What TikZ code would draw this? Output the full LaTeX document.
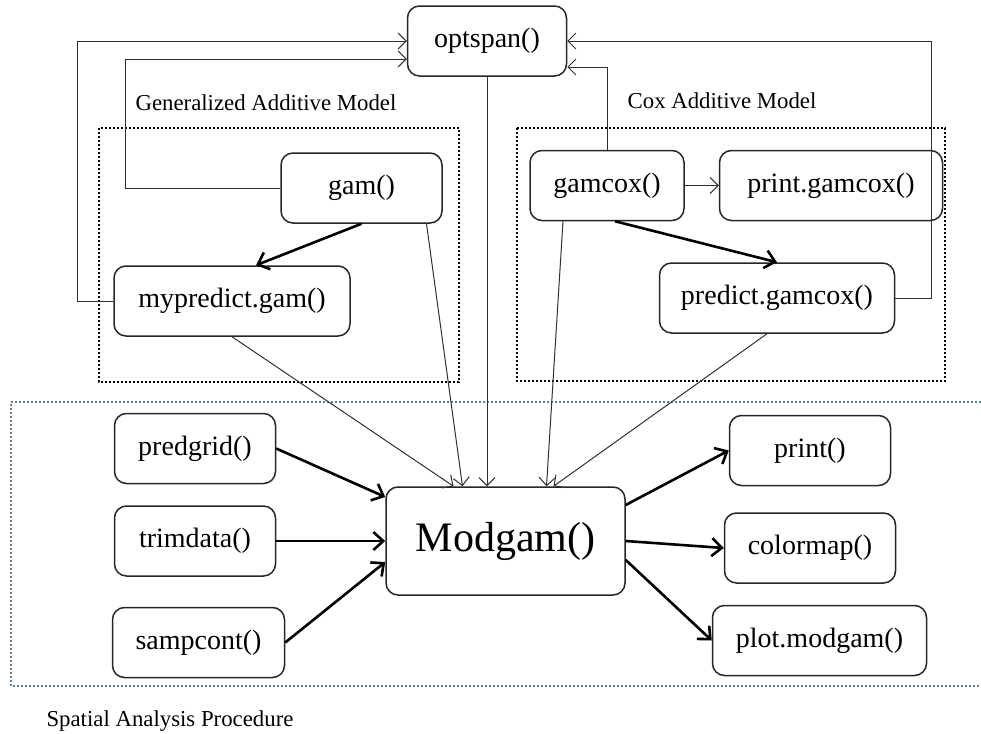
\documentclass[tikz,border=0pt]{standalone}
\usepackage{fontspec}
\setmainfont{Liberation Serif}
\usetikzlibrary{arrows.meta,positioning}
\definecolor{cline}{HTML}{303030}
\definecolor{carea}{HTML}{5F7F95}
\tikzset{
  fn/.style={draw=black!85, rounded corners=6pt, line width=0.75pt,
             minimum height=35pt, inner sep=3pt, font=\fontsize{14}{16}\selectfont},
  fnbig/.style={fn, minimum width=119.5pt, minimum height=54pt,
                font=\fontsize{21}{24}\selectfont},
  grp/.style={draw=black, line width=1pt, dash pattern=on 1pt off 1pt},
  area/.style={draw=carea, line width=0.8pt, dash pattern=on 0.8pt off 1.2pt},
  lbl/.style={font=\fontsize{11.4}{13}\selectfont},
  call/.style={-{Straight Barb[length=4pt,width=8pt]}, draw=cline, line width=0.5pt},
  callb/.style={-{Straight Barb[length=5pt,width=9pt]}, draw=black, line width=1.3pt},
}

\begin{document}
\begin{tikzpicture}[x=0.5pt, y=-0.5pt]
  \useasboundingbox (0,0) rectangle (981,734);
  \draw[grp] (99,128) rectangle (459,382);
  \draw[grp] (517,128) rectangle (945,381);
  \draw[area] (981,402) -- (11,402) -- (11,686) -- (981,686);
  \node[lbl] (lgam) at (266,103) {Generalized Additive Model};
  \node[lbl] (lcox) at (722,101) {Cox Additive Model};
  \node[lbl] (lsp) at (170,721) {Spatial Analysis Procedure};

  \node[fn, minimum width=79.5pt] (opt) at (487,41) {optspan()};
  \node[fn, minimum width=80.5pt] (gam) at (361.5,188) {gam()};
  \node[fn, minimum width=118pt] (myp) at (232,301) {mypredict.gam()};
  \node[fn, minimum width=77pt] (gcx) at (607,185.5) {gamcox()};
  \node[fn, minimum width=111.5pt, right=17pt of gcx] (pgx) {print.gamcox()};
  \node[fn, minimum width=117.5pt] (pgc) at (777,298) {predict.gamcox()};

  \node[fnbig] (mod) at (505.5,541) {Modgam()};
  \node[fn, minimum width=80.5pt, left=54.5pt of mod] (trim) {trimdata()};
  \node[fn, minimum width=80.5pt, above=10.5pt of trim] (grid) {predgrid()};
  \node[fn, minimum width=86pt, below=15pt of trim, xshift=1.75pt] (samp) {sampcont()};
  \node[fn, minimum width=85.5pt, right=49pt of mod, yshift=-3.5pt] (cmap) {colormap()};
  \node[fn, minimum width=80.5pt, above=13pt of cmap] (prt) {print()};
  \node[fn, minimum width=107pt, below=10.5pt of cmap, xshift=4.75pt] (pmod) {plot.modgam()};

  \draw[call] (myp.west) -- ++(-36,0) |- (opt.west);
  \draw[call] (gam.west) -- ++(-155,0) |- ([yshift=-9pt]opt.west);
  \draw[call] (gcx.north) |- ([yshift=-13pt]opt.east);
  \draw[call] (pgc.east) -- ++(36,0) |- (opt.east);
  \draw[call] (gcx) -- (pgx);
  \draw[callb] (gam.south) -- ([xshift=12pt]myp.north);
  \draw[callb] ([xshift=4pt]gcx.south) -- (pgc.north);

  \draw[call] (opt) -- (opt |- mod.north);
  \draw[call] ([xshift=32.5pt]gam.south) -- ([xshift=-21.5pt]mod.north);
  \draw[call] (myp.south) -- ([xshift=-26pt]mod.north);
  \draw[call] ([xshift=-22pt]gcx.south) -- ([xshift=20.5pt]mod.north);
  \draw[call] ([xshift=-5pt]pgc.south) -- ([xshift=24pt]mod.north);

  \draw[callb] (grid.east) -- ([yshift=22pt]mod.west);
  \draw[callb] (trim.east) -- (mod.west);
  \draw[callb] (samp.east) -- ([yshift=-10.5pt]mod.west);
  \draw[callb] ([yshift=18pt]mod.east) -- (prt.west);
  \draw[callb] (mod.east) -- (cmap.west);
  \draw[callb] ([yshift=-9.5pt]mod.east) -- (pmod.west);
\end{tikzpicture}
\end{document}
